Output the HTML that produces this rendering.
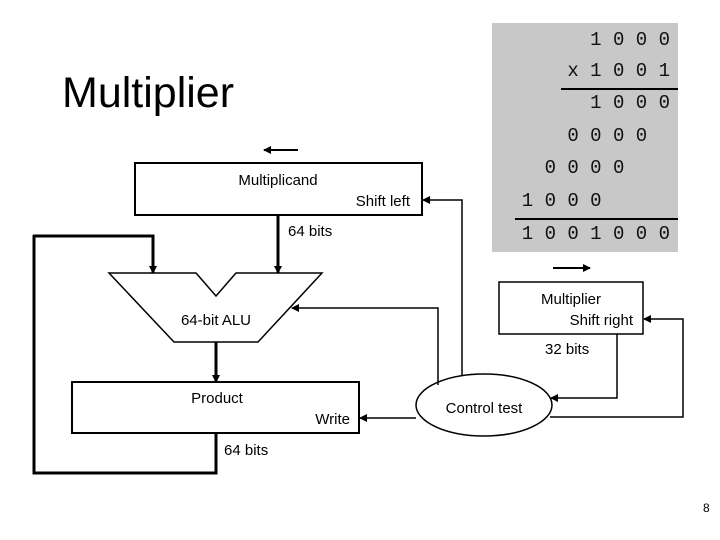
<!DOCTYPE html>
<html><head><style>
body{margin:0;width:720px;height:540px;background:#fff;position:relative;overflow:hidden;font-family:"Liberation Sans",sans-serif;}
.t{position:absolute;white-space:pre;}
.m{font-family:"Liberation Mono",monospace;font-size:19px;right:50px;color:#111;line-height:20px;}
</style></head><body>
<div class="t" style="left:62px;top:69px;font-size:43px;line-height:48px;">Multiplier</div>
<div style="position:absolute;left:492px;top:23px;width:186px;height:229px;background:#c8c8c8;"></div>
<div class="t m" style="top:30px;">1 0 0 0</div>
<div class="t m" style="top:61px;">x 1 0 0 1</div>
<div style="position:absolute;left:561px;top:88px;width:117px;height:2px;background:#000;"></div>
<div class="t m" style="top:93px;">1 0 0 0</div>
<div class="t m" style="top:126px;">0 0 0 0  </div>
<div class="t m" style="top:158px;">0 0 0 0    </div>
<div class="t m" style="top:191px;">1 0 0 0      </div>
<div style="position:absolute;left:515px;top:218px;width:163px;height:2px;background:#000;"></div>
<div class="t m" style="top:224px;">1 0 0 1 0 0 0</div>
<svg width="720" height="540" style="position:absolute;left:0;top:0;" font-family="Liberation Sans, sans-serif" font-size="15">
<defs><marker id="a" markerWidth="8" markerHeight="8" refX="7" refY="4" orient="auto" markerUnits="userSpaceOnUse"><path d="M0,0L8,4L0,8z"/></marker></defs>
<g fill="none" stroke="#000">
<rect x="135" y="163" width="287" height="52" stroke-width="2"/>
<rect x="72" y="382" width="287" height="51" stroke-width="2"/>
<rect x="499" y="282" width="144" height="52" stroke-width="1.5"/>
<polygon points="109,273 196,273 216,296 236,273 322,273 258,342 174,342" stroke-width="1.5"/>
<ellipse cx="484" cy="405" rx="68" ry="31" stroke-width="1.5"/>
<line x1="298" y1="150" x2="264" y2="150" stroke-width="2" marker-end="url(#a)"/>
<line x1="553" y1="268" x2="590" y2="268" stroke-width="2" marker-end="url(#a)"/>
<line x1="278" y1="215" x2="278" y2="273" stroke-width="3" marker-end="url(#a)"/>
<polyline points="33,236 153,236 153,273" stroke-width="3" marker-end="url(#a)"/>
<polyline points="216,433 216,473 34,473 34,235" stroke-width="3"/>
<line x1="216" y1="342" x2="216" y2="382" stroke-width="3" marker-end="url(#a)"/>
<line x1="416" y1="418" x2="360" y2="418" stroke-width="1.5" marker-end="url(#a)"/>
<polyline points="438,385 438,308 292,308" stroke-width="1.5" marker-end="url(#a)"/>
<polyline points="462,375 462,200 423,200" stroke-width="1.5" marker-end="url(#a)"/>
<polyline points="617,334 617,398 551,398" stroke-width="1.5" marker-end="url(#a)"/>
<polyline points="550,417 683,417 683,319 644,319" stroke-width="1.5" marker-end="url(#a)"/>
</g>
<text x="278" y="185" text-anchor="middle">Multiplicand</text>
<text x="410" y="206" text-anchor="end">Shift left</text>
<text x="288" y="236">64 bits</text>
<text x="216" y="325" text-anchor="middle">64-bit ALU</text>
<text x="217" y="403" text-anchor="middle">Product</text>
<text x="350" y="424" text-anchor="end">Write</text>
<text x="224" y="455">64 bits</text>
<text x="484" y="413" text-anchor="middle">Control test</text>
<text x="571" y="304" text-anchor="middle">Multiplier</text>
<text x="633" y="325" text-anchor="end">Shift right</text>
<text x="545" y="354">32 bits</text>
<text x="703" y="512" font-size="12">8</text>
</svg>
</body></html>
